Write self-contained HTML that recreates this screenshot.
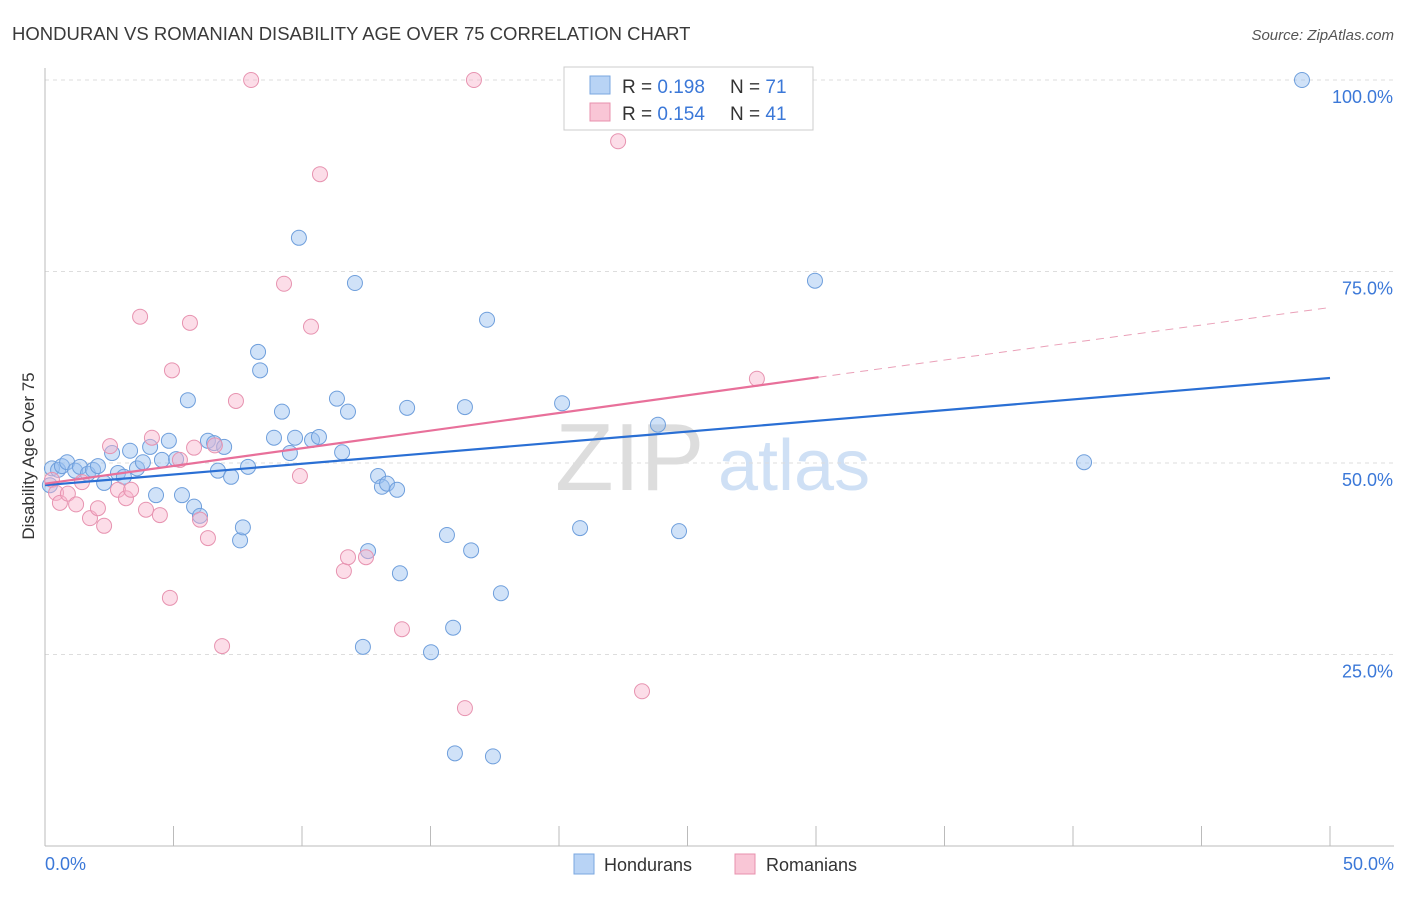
<!DOCTYPE html>
<html><head><meta charset="utf-8"><style>
body{margin:0;background:#fff;font-family:"Liberation Sans",sans-serif;}
svg text{font-family:"Liberation Sans",sans-serif;}
</style></head><body>
<svg id="c" width="1406" height="892">
<text x="12" y="40" font-size="18.5" fill="#3a3a3a">HONDURAN VS ROMANIAN DISABILITY AGE OVER 75 CORRELATION CHART</text>
<text x="1394" y="40" font-size="15" fill="#555" font-style="italic" text-anchor="end">Source: ZipAtlas.com</text>
<text x="34" y="456" font-size="17" fill="#333" text-anchor="middle" transform="rotate(-90 34 456)">Disability Age Over 75</text>
<text x="555" y="490" font-size="96" fill="#ddd" font-family="Liberation Serif">ZIP</text>
<text x="718" y="490" font-size="72" fill="#cfe0f5">atlas</text>
<g id="grid"></g><g id="pts"></g><g id="lines"></g>
<g>
<rect x="564" y="67" width="249" height="63" fill="#fff" stroke="#ccc"/>
<rect x="590" y="76" width="20" height="18" fill="#b8d3f5" stroke="#7aa7e0"/>
<text x="622" y="93" font-size="19" fill="#333">R = <tspan fill="#3b78d8">0.198</tspan></text>
<text x="730" y="93" font-size="19" fill="#333">N = <tspan fill="#3b78d8">71</tspan></text>
<rect x="590" y="103" width="20" height="18" fill="#f9c6d6" stroke="#e890ad"/>
<text x="622" y="120" font-size="19" fill="#333">R = <tspan fill="#3b78d8">0.154</tspan></text>
<text x="730" y="120" font-size="19" fill="#333">N = <tspan fill="#3b78d8">41</tspan></text>
</g>
<g>
<rect x="574" y="854" width="20" height="20" fill="#b8d3f5" stroke="#7aa7e0"/>
<text x="604" y="871" font-size="18" fill="#333">Hondurans</text>
<rect x="735" y="854" width="20" height="20" fill="#f9c6d6" stroke="#e890ad"/>
<text x="766" y="871" font-size="18" fill="#333">Romanians</text>
</g>
</svg>
<script>
const blueX=[0.27,0.51,0.66,0.86,1.17,1.36,1.67,1.87,2.06,2.30,2.61,2.84,3.07,3.31,3.58,3.81,4.09,4.32,4.55,4.82,5.10,5.33,5.56,5.80,6.03,6.34,6.58,6.73,6.97,7.24,7.59,7.70,7.90,8.29,8.37,8.91,9.22,9.53,9.73,9.88,10.39,10.66,11.36,11.56,11.79,12.06,12.57,12.37,12.96,13.11,13.31,13.70,13.81,14.09,15.02,15.64,15.88,15.95,16.34,16.58,17.20,17.43,17.74,20.12,20.82,23.85,24.67,29.96,40.43,48.91,0.19];
const blueY=[49.3,49.1,49.6,50.1,49.0,49.5,48.6,49.1,49.6,47.4,51.3,48.7,48.2,51.6,49.3,50.1,52.1,45.8,50.4,52.9,50.5,45.8,58.2,44.3,43.1,52.9,52.6,49.0,52.1,48.2,39.9,41.6,49.5,64.5,62.1,53.3,56.7,51.3,53.3,79.4,53.0,53.4,58.4,51.4,56.7,73.5,38.5,26.0,48.3,46.9,47.3,46.5,35.6,57.2,25.3,40.6,28.5,12.1,57.3,38.6,68.7,11.7,33.0,57.8,41.5,55.0,41.1,73.8,50.1,100,47.1];
const pinkX=[0.27,0.43,0.58,0.89,1.21,1.44,1.75,2.06,2.30,2.53,2.84,3.15,3.35,3.70,3.93,4.16,4.47,4.86,4.94,5.25,5.64,5.80,6.03,6.34,6.61,6.89,7.43,8.02,9.30,9.92,10.35,10.70,11.63,11.79,12.49,13.89,16.34,16.69,22.30,23.23,27.70];
const pinkY=[47.8,46.1,44.8,46.0,44.6,47.5,42.8,44.1,41.8,52.2,46.5,45.4,46.5,69.1,43.9,53.3,43.2,32.4,62.1,50.4,68.3,52.0,42.6,40.2,52.3,26.1,58.1,100,73.4,48.3,67.8,87.7,35.9,37.7,37.7,28.3,18.0,100,92.0,20.2,61.0];
const yTicks=[25,50,75,100];
const xTickLabels=["0.0%","50.0%"];
const blueTrend=[[0,47.1],[50,61.1]];
const pinkTrend=[[0,47.3],[30.1,61.2]];
const pinkDash=[[30.1,61.2],[50,70.3]];
const sx=v=>45+v*25.7, sy=v=>846-v*7.66;
const NS="http://www.w3.org/2000/svg";
function mk(t,a,p){const e=document.createElementNS(NS,t);for(const k in a)e.setAttribute(k,a[k]);p.appendChild(e);return e;}
const g=document.getElementById('grid');
yTicks.forEach(t=>{const l=mk('line',{x1:45,x2:1394,y1:sy(t),y2:sy(t),stroke:'#ddd','stroke-dasharray':'4,4'},g);


const tx=mk('text',{x:1393,y:sy(t)+23,'font-size':18,fill:'#3b78d8','text-anchor':'end'},g);tx.textContent=t.toFixed(1)+'%';

});
const ax=mk('line',{x1:45,x2:45,y1:68,y2:846,stroke:'#bbb'},g);


const bx=mk('line',{x1:45,x2:1394,y1:846,y2:846,stroke:'#bbb'},g);


for(let i=0;i<=10;i++){const t=mk('line',{x1:sx(i*5),x2:sx(i*5),y1:826,y2:846,stroke:'#bbb'},g);

}
[[0,'start',45],[1,'end',1394]].forEach(([i,a,x])=>{const t=mk('text',{x:x,y:870,'font-size':18,fill:'#3b78d8','text-anchor':a},g);t.textContent=xTickLabels[i];

});
const p=document.getElementById('pts');
blueX.forEach((x,i)=>{const c=mk('circle',{cx:sx(x),cy:sy(blueY[i]),r:7.5,fill:'rgba(150,190,240,0.45)',stroke:'#6f9fdc','stroke-width':1},p);

});
pinkX.forEach((x,i)=>{const c=mk('circle',{cx:sx(x),cy:sy(pinkY[i]),r:7.5,fill:'rgba(248,180,205,0.45)',stroke:'#e793b0','stroke-width':1},p);

});
const L=document.getElementById('lines');
function ln(d,col,w,dash,name){const e=mk('line',{x1:sx(d[0][0]),y1:sy(d[0][1]),x2:sx(d[1][0]),y2:sy(d[1][1]),stroke:col,'stroke-width':w},L);if(dash)e.setAttribute('stroke-dasharray',dash);

}
ln(blueTrend,'#2a6fd4',2.2,null,'honduran-trend-line');
ln(pinkTrend,'#e8709a',2.2,null,'romanian-trend-line');
ln(pinkDash,'#eaa0b8',1,'8,6','romanian-trend-extension');
</script>
</body></html>
